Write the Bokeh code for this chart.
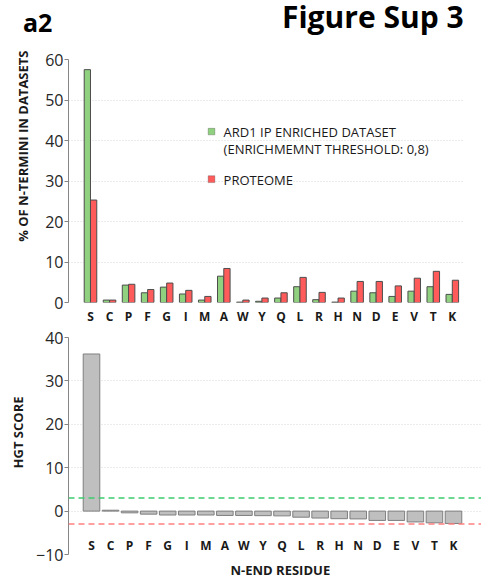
from bokeh.plotting import figure
from bokeh.models import Range1d, FixedTicker, Span, Label, BoxAnnotation, Title, Div
from bokeh.layouts import column
from bokeh.embed import file_html
from bokeh.resources import INLINE
from bokeh.core.properties import value

# ---------------- data ----------------
residues = ["S", "C", "P", "F", "G", "I", "M", "A", "W", "Y",
            "Q", "L", "R", "H", "N", "D", "E", "V", "T", "K"]
ard1_enriched = [57.5, 0.6, 4.3, 2.4, 3.8, 2.1, 0.6, 6.5, 0.1, 0.3,
                 1.1, 3.9, 0.7, 0.1, 2.8, 2.4, 1.5, 2.8, 3.9, 2.0]
proteome = [25.3, 0.6, 4.5, 3.2, 4.8, 3.0, 1.5, 8.4, 0.6, 1.1,
            2.4, 6.2, 2.5, 1.1, 5.2, 5.2, 4.1, 6.0, 7.7, 5.5]
hgt_score = [36.2, 0.2, -0.4, -0.7, -0.9, -0.9, -0.9, -1.0, -1.0, -1.05,
             -1.1, -1.4, -1.6, -1.75, -1.8, -2.15, -2.15, -2.5, -2.7, -2.85]
hgt_upper = 3.0
hgt_lower = -3.0
pct_ticks = [0, 10, 20, 30, 40, 50, 60]
hgt_ticks = [-10, 0, 10, 20, 30, 40]
panel_label = "a2"
figure_title = "Figure Sup 3"

FONT = "Open Sans"
GREEN = "#8FD17E"
RED = "#FF5B5B"
GRAY = "#BFBFBF"
TXT = "#1A1A1A"
idx = list(range(len(residues)))

# ---------------- header (panel label + figure title) ----------------
header_html = (
    '<div style="position:relative;width:481px;height:42px;overflow:hidden;'
    "font-family:'Open Sans';font-weight:bold;color:black\">"
    '<span style="position:absolute;left:23px;top:10px;font-size:25px;line-height:1">'
    + panel_label + '</span>'
    '<span style="position:absolute;left:282px;top:0px;font-size:30px;line-height:1.1;'
    'white-space:nowrap">' + figure_title + '</span></div>'
)
header = Div(text=header_html, width=481, height=42, margin=0,
             styles={"overflow": "hidden"})

# ---------------- top chart ----------------
p1 = figure(frame_width=396, frame_height=243, output_backend="svg", toolbar_location=None,
            x_range=Range1d(-1.155, 19.64), y_range=Range1d(0, 60),
            min_border_left=67, min_border_right=18, min_border_top=17,
            min_border_bottom=22)
p1.outline_line_color = None

p1.vbar(x=[i - 0.165 for i in idx], top=ard1_enriched, width=0.33,
        fill_color=GREEN, line_color="#4D4D4D", line_width=1)
p1.vbar(x=[i + 0.165 for i in idx], top=proteome, width=0.33,
        fill_color=RED, line_color="#4D4D4D", line_width=1)

p1.xgrid.visible = False
p1.ygrid.grid_line_color = "#D9D9D9"
p1.ygrid.grid_line_dash = "1 2"
p1.ygrid.ticker = FixedTicker(ticks=pct_ticks)

p1.yaxis.ticker = FixedTicker(ticks=pct_ticks)
p1.yaxis.axis_line_color = "#868686"
p1.yaxis.major_tick_line_color = "#868686"
p1.yaxis.major_tick_in = 0
p1.yaxis.major_tick_out = 4
p1.yaxis.minor_tick_line_color = None
p1.yaxis.major_label_standoff = 1
p1.yaxis.major_label_text_font = FONT
p1.yaxis.major_label_text_font_size = "16px"
p1.yaxis.major_label_text_color = "#262626"

p1.xaxis.ticker = FixedTicker(ticks=idx)
p1.xaxis.major_label_overrides = {i: r for i, r in zip(idx, residues)}
p1.xaxis.axis_line_color = None
p1.xaxis.major_tick_line_color = None
p1.xaxis.minor_tick_line_color = None
p1.xaxis.major_tick_out = 0
p1.xaxis.major_tick_in = 0
p1.xaxis.major_label_standoff = 5
p1.xaxis.major_label_text_font = FONT
p1.xaxis.major_label_text_font_style = "bold"
p1.xaxis.major_label_text_font_size = "12px"
p1.xaxis.major_label_text_color = TXT

p1.add_layout(Title(text="% OF N-TERMINI IN DATASETS", align="right", offset=-9,
                    vertical_align="top", standoff=17, text_font=FONT,
                    text_font_style="bold", text_font_size="13px", text_color=TXT), "left")

# legend
p1.add_layout(BoxAnnotation(left=6.18, right=6.53, bottom=41.4, top=43.0,
                            fill_color=GREEN, fill_alpha=1, line_color="#404040", line_width=1))
p1.add_layout(BoxAnnotation(left=6.18, right=6.53, bottom=29.6, top=31.3,
                            fill_color=RED, fill_alpha=1, line_color="#404040", line_width=1))
for ty, txt in [(42.1, "ARD1 IP ENRICHED DATASET"),
                (38.0, "(ENRICHMEMNT THRESHOLD: 0,8)"),
                (30.3, "PROTEOME")]:
    p1.add_layout(Label(x=6.99, y=ty, text=txt, text_font=FONT, text_font_size="13px",
                        text_color=TXT, text_baseline="middle"))

# ---------------- bottom chart ----------------
p2 = figure(frame_width=413, frame_height=217, output_backend="svg", toolbar_location=None,
            x_range=Range1d(-1.207, 20.47), y_range=Range1d(-10, 40),
            x_axis_location=None,
            min_border_left=68, min_border_right=0, min_border_top=10,
            min_border_bottom=30)
p2.outline_line_color = None

p2.vbar(x=idx, top=hgt_score, width=0.87, fill_color=GRAY,
        line_color="#7F7F7F", line_width=1)
p2.add_layout(Span(location=hgt_upper, dimension="width", line_color="#3DCC6E",
                   line_dash="6 4", line_width=1.5))
p2.add_layout(Span(location=hgt_lower, dimension="width", line_color="#FF8080",
                   line_dash="6 4", line_width=1.5))

p2.text(x=idx, y=[-7.9] * len(idx), text=residues, text_align="center",
        text_baseline="middle", text_font=value(FONT), text_font_style="bold",
        text_font_size="12px", text_color=TXT)

p2.xgrid.visible = False
p2.ygrid.grid_line_color = "#D9D9D9"
p2.ygrid.grid_line_dash = "1 2"
p2.ygrid.ticker = FixedTicker(ticks=hgt_ticks)

p2.yaxis.ticker = FixedTicker(ticks=hgt_ticks)
p2.yaxis.axis_line_color = "#868686"
p2.yaxis.major_tick_line_color = "#868686"
p2.yaxis.major_tick_in = 0
p2.yaxis.major_tick_out = 4
p2.yaxis.minor_tick_line_color = None
p2.yaxis.major_label_standoff = 1
p2.yaxis.major_label_text_font = FONT
p2.yaxis.major_label_text_font_size = "16px"
p2.yaxis.major_label_text_color = "#262626"

p2.add_layout(Title(text="HGT SCORE", align="right", offset=59,
                    vertical_align="top", standoff=9, text_font=FONT,
                    text_font_style="bold", text_font_size="13px", text_color=TXT), "left")
p2.add_layout(Title(text="N-END RESIDUE", align="left", offset=162,
                    vertical_align="middle", standoff=10, text_font=FONT,
                    text_font_style="bold", text_font_size="13px", text_color=TXT), "below")

layout = column(header, p1, p2, spacing=0)
open("out.html", "w").write(file_html(layout, INLINE))
